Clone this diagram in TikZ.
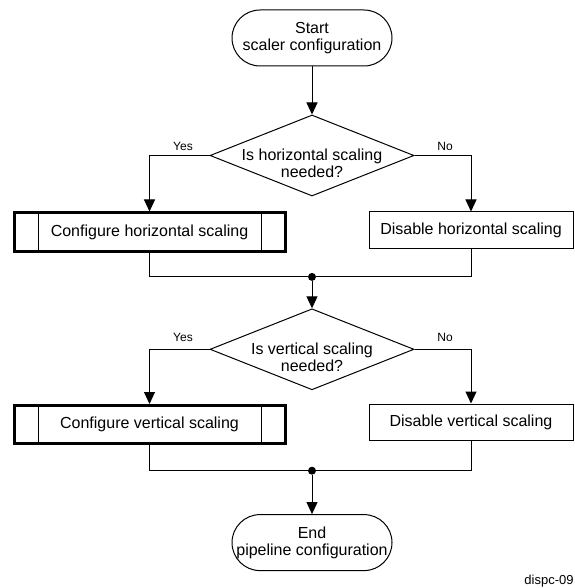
\documentclass[tikz,border=0pt]{standalone}
\usepackage{fontspec}
\setmainfont{Liberation Sans}
\usetikzlibrary{arrows.meta,positioning,shapes.geometric}
\tikzset{
  font=\fontsize{8}{8.6}\selectfont,
  terminal/.style={
    draw, line width=0.5pt, rounded corners=14pt,
    minimum width=80pt, minimum height=28pt, align=center, inner sep=0pt
  },
  decision/.style={draw, diamond, line width=0.5pt, minimum width=102pt, minimum height=40.5pt, inner sep=0pt},
  qtext/.style={align=center, inner sep=0pt},
  process/.style={draw, line width=0.5pt, minimum width=102pt, minimum height=18pt, inner sep=0pt},
  predefined/.style={
    process, line width=1.5pt, minimum width=135.5pt, minimum height=19pt,
    path picture={
      \draw[line width=0.5pt]
        ([xshift=12pt]path picture bounding box.north west) -- ([xshift=12pt]path picture bounding box.south west)
        ([xshift=-12pt]path picture bounding box.north east) -- ([xshift=-12pt]path picture bounding box.south east);
    }
  },
  junction/.style={circle, fill, inner sep=0pt, minimum size=4pt},
  flow/.style={-{Triangle[length=6pt,width=5.5pt]}, line width=0.5pt},
  link/.style={line width=0.5pt},
  branch/.style={font=\fontsize{6}{7}\selectfont, inner sep=0pt},
  figid/.style={font=\fontsize{6.5}{7.5}\selectfont, inner sep=0pt}
}

\begin{document}
\begin{tikzpicture}[x=0.5pt, y=-0.5pt]
  \useasboundingbox (0,0) rectangle (574,588);

  % main column
  \node[terminal] (start) at (312,38) {Start\\scaler configuration};
  \node[decision, below=24pt of start] (q1) {};
  \node[qtext] (q1t) at ([yshift=-4pt]q1.center) {Is horizontal scaling\\needed?};
  \node[junction, below=38pt of q1] (j1) {};
  \node[decision, below=13.5pt of j1] (q2) {};
  \node[qtext] (q2t) at ([yshift=-4pt]q2.center) {Is vertical scaling\\needed?};
  \node[junction, below=38pt of q2] (j2) {};
  \node[terminal, below=19.5pt of j2] (stop) {End\\pipeline configuration};

  % branches
  \node[predefined] (cfgh) at (149.5,232) {Configure horizontal scaling};
  \node[process] (dish) at (471,230) {Disable horizontal scaling};
  \node[predefined] (cfgv) at (149.5,424.5) {Configure vertical scaling};
  \node[process] (disv) at (471,422) {Disable vertical scaling};

  \node[branch] (yes1) at (183,146) {Yes};
  \node[branch] (no1) at (445,146) {No};
  \node[branch] (yes2) at (183,337) {Yes};
  \node[branch] (no2) at (445,337) {No};

  \draw[flow] (start) -- (q1);
  \draw[flow] (q1.west) -| (cfgh.north);
  \draw[flow] (q1.east) -| (dish.north);
  \draw[link] (cfgh.south) |- (j1);
  \draw[link] (dish.south) |- (j1);
  \draw[flow] (j1) -- (q2);
  \draw[flow] (q2.west) -| (cfgv.north);
  \draw[flow] (q2.east) -| (disv.north);
  \draw[link] (cfgv.south) |- (j2);
  \draw[link] (disv.south) |- (j2);
  \draw[flow] (j2) -- (stop);

  \node[figid, anchor=south east] (figno) at (574,588) {dispc-09};
\end{tikzpicture}
\end{document}
